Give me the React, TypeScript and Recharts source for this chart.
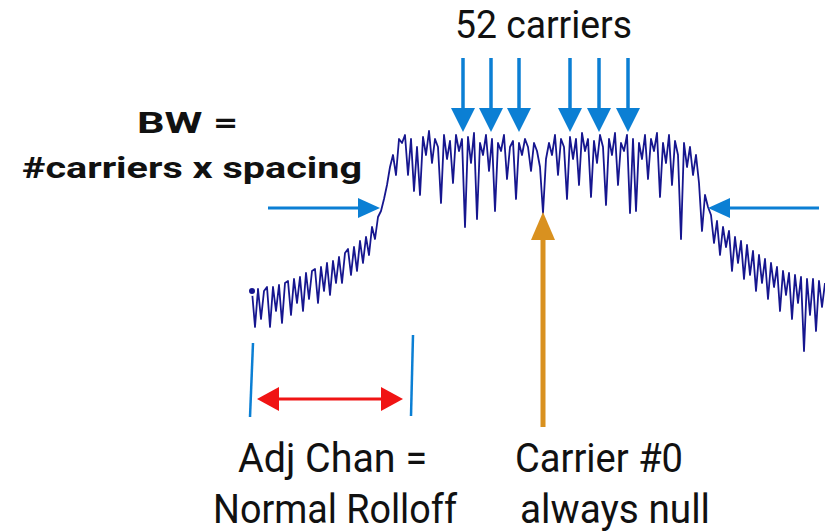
import { LineChart, Line, XAxis, YAxis, ReferenceLine, ReferenceDot } from "recharts";

// 802.11a style OFDM spectrum, x in MHz from band centre, y in relative dB
const FREQ_START_MHZ = -14.45;
const FREQ_STEP_MHZ = 0.15;

const LEVELS_DB = [
  // lower skirt
  -40, -49, -39.5, -47, -40, -39, -49, -39, -45, -38.5,
  -48, -38, -37.5, -46, -37, -43, -36.5, -45, -35.5, -42,
  -35, -34.5, -43, -34, -40, -33, -41, -32.5, -38, -31.5,
  -38, -30.5, -29.5, -36, -29, -35, -27.5, -33, -26.5, -31,
  -24, -27, -21.5, -20, -17, -13.5, -9, -6, -11, -2,
  // occupied band
  -3, -1, -11, -2, -15, -4, -16, -1.5, -6, 0,
  -8, -2, -4, -18, -1, -7, -2.5, -13, -1, -5,
  -2, -24, -1.5, -8, -0.5, -22, -3, -6, -1, -10,
  -2, -20, -3, -5, -1, -12, -4, -2.5, -17, -3,
  -6, -2, -4, -10, -3, -5, -9, -20.5, -7, -3,
  -6, -1, -11, -2, -4, -17, -1.5, -7, -2, -13.5,
  -0.5, -5, -2, -16.5, -2.5, -8, -1, -4, -18.5, -2,
  -6, -0.5, -13.5, -3, -5, -1, -20.5, -2, -20, -3,
  -7, -1, -12, -2, -5, -0.5, -16.5, -3, -8, -1,
  -13.5, -2.5, -6, -27, -3, -9, -4, -11, -6,
  // upper skirt
  -13, -25, -16, -19, -21, -28, -22.5, -31, -24, -29,
  -25, -35, -26.5, -33, -27.5, -37, -28.5, -36, -30, -40,
  -31, -38, -32, -42, -33, -39, -34, -45, -35, -41,
  -35.5, -47, -36, -43, -36.5, -55, -37, -46, -37, -50,
  -37.5, -44, -38,
];

const CARRIER_MARKERS_MHZ = [-3.9, -2.5, -1.1, 1.45, 2.9, 4.35];

const TITLE_TEXT = "52 carriers";
const BW_LINES = ["BW =", "#carriers x spacing"];
const ADJ_LINES = ["Adj Chan =", "Normal Rolloff"];
const NULL_LINES = ["Carrier #0", "always null"];

const spectrum = LEVELS_DB.map((level, i) => ({
  freq: +(FREQ_START_MHZ + i * FREQ_STEP_MHZ).toFixed(3),
  level,
}));

const BLUE = "#0b7fd4";
const RED = "#f01414";
const ORANGE = "#d9911f";
const NAVY = "#16168f";
const FONT = "Roboto, 'Liberation Sans', sans-serif";

function ArrowShape(props: any) {
  const { x1, y1, x2, y2, color, strokeWidth = 3, headLen = 24, headHalf = 12, both = false, plain = false } = props;
  const dx = x2 - x1;
  const dy = y2 - y1;
  const len = Math.sqrt(dx * dx + dy * dy) || 1;
  const ux = dx / len;
  const uy = dy / len;
  const px = -uy;
  const py = ux;
  const head = (tx: number, ty: number, dirx: number, diry: number) => {
    const bx = tx - dirx * headLen;
    const by = ty - diry * headLen;
    return `${tx},${ty} ${bx + px * headHalf},${by + py * headHalf} ${bx - px * headHalf},${by - py * headHalf}`;
  };
  if (plain) {
    return <line x1={x1} y1={y1} x2={x2} y2={y2} stroke={color} strokeWidth={strokeWidth} />;
  }
  const sx = both ? x1 + ux * headLen * 0.8 : x1;
  const sy = both ? y1 + uy * headLen * 0.8 : y1;
  const ex = x2 - ux * headLen * 0.8;
  const ey = y2 - uy * headLen * 0.8;
  return (
    <g>
      <line x1={sx} y1={sy} x2={ex} y2={ey} stroke={color} strokeWidth={strokeWidth} />
      <polygon points={head(x2, y2, ux, uy)} fill={color} />
      {both ? <polygon points={head(x1, y1, -ux, -uy)} fill={color} /> : null}
    </g>
  );
}

function TextShape(props: any) {
  const { cx, cy, text, size, weight = 400, width } = props;
  return (
    <text
      x={cx}
      y={cy}
      textAnchor="middle"
      fontFamily={FONT}
      fontSize={size}
      fontWeight={weight}
      fill="#111"
      textLength={width}
      lengthAdjust="spacingAndGlyphs"
    >
      {text}
    </text>
  );
}

export default function App() {
  return (
    <div style={{ position: "absolute", left: 0, top: 0, width: 825, height: 531, background: "#fff" }}>
      <LineChart width={825} height={531} data={spectrum} margin={{ top: 0, right: 0, bottom: 0, left: 0 }}>
        <XAxis type="number" dataKey="freq" domain={[-27.05, 14.2]} hide />
        <YAxis type="number" domain={[-100, 32.75]} hide />
        <Line
          type="linear"
          dataKey="level"
          stroke={NAVY}
          strokeWidth={1.8}
          strokeLinejoin="round"
          dot={false}
          isAnimationActive={false}
        />

        {CARRIER_MARKERS_MHZ.map((f) => (
          <ReferenceLine
            key={`carrier-${f}`}
            segment={[{ x: f, y: 18.25 }, { x: f, y: -0.25 }]}
            shape={(p: any) => <ArrowShape {...p} color={BLUE} strokeWidth={3.5} />}
          />
        ))}

        {/* bandwidth edge arrows */}
        <ReferenceLine
          segment={[{ x: -13.65, y: -19.25 }, { x: -8.05, y: -19.25 }]}
          shape={(p: any) => <ArrowShape {...p} color={BLUE} strokeWidth={3} headLen={22} headHalf={10} />}
        />
        <ReferenceLine
          segment={[{ x: 13.9, y: -19.25 }, { x: 8.35, y: -19.25 }]}
          shape={(p: any) => <ArrowShape {...p} color={BLUE} strokeWidth={3} headLen={22} headHalf={10} />}
        />

        {/* adjacent channel markers */}
        <ReferenceLine
          segment={[{ x: -14.4, y: -53 }, { x: -14.55, y: -71.5 }]}
          shape={(p: any) => <ArrowShape {...p} color={BLUE} strokeWidth={2.5} plain />}
        />
        <ReferenceLine
          segment={[{ x: -6.4, y: -51 }, { x: -6.5, y: -71.25 }]}
          shape={(p: any) => <ArrowShape {...p} color={BLUE} strokeWidth={2.5} plain />}
        />
        <ReferenceLine
          segment={[{ x: -14.2, y: -67 }, { x: -6.9, y: -67 }]}
          shape={(p: any) => <ArrowShape {...p} color={RED} strokeWidth={3} headLen={22} headHalf={12} both />}
        />

        {/* carrier #0 null */}
        <ReferenceLine
          segment={[{ x: 0.1, y: -74 }, { x: 0.1, y: -20.25 }]}
          shape={(p: any) => <ArrowShape {...p} color={ORANGE} strokeWidth={5} headLen={28} headHalf={12} />}
        />

        <ReferenceDot x={0.125} y={23.25} r={1}
          shape={(p: any) => <TextShape {...p} text={TITLE_TEXT} size={38} width={177} />} />
        <ReferenceDot x={-17.675} y={-0.5} r={1}
          shape={(p: any) => <TextShape {...p} text={BW_LINES[0]} size={30} weight={700} width={101} />} />
        <ReferenceDot x={-17.45} y={-11.75} r={1}
          shape={(p: any) => <TextShape {...p} text={BW_LINES[1]} size={30} weight={700} width={340} />} />
        <ReferenceDot x={-10.425} y={-85.25} r={1}
          shape={(p: any) => <TextShape {...p} text={ADJ_LINES[0]} size={41} width={189} />} />
        <ReferenceDot x={-10.3} y={-98} r={1}
          shape={(p: any) => <TextShape {...p} text={ADJ_LINES[1]} size={40} width={244} />} />
        <ReferenceDot x={2.9} y={-85.25} r={1}
          shape={(p: any) => <TextShape {...p} text={NULL_LINES[0]} size={41} width={168} />} />
        <ReferenceDot x={3.7} y={-98} r={1}
          shape={(p: any) => <TextShape {...p} text={NULL_LINES[1]} size={40} width={190} />} />
      </LineChart>
    </div>
  );
}
